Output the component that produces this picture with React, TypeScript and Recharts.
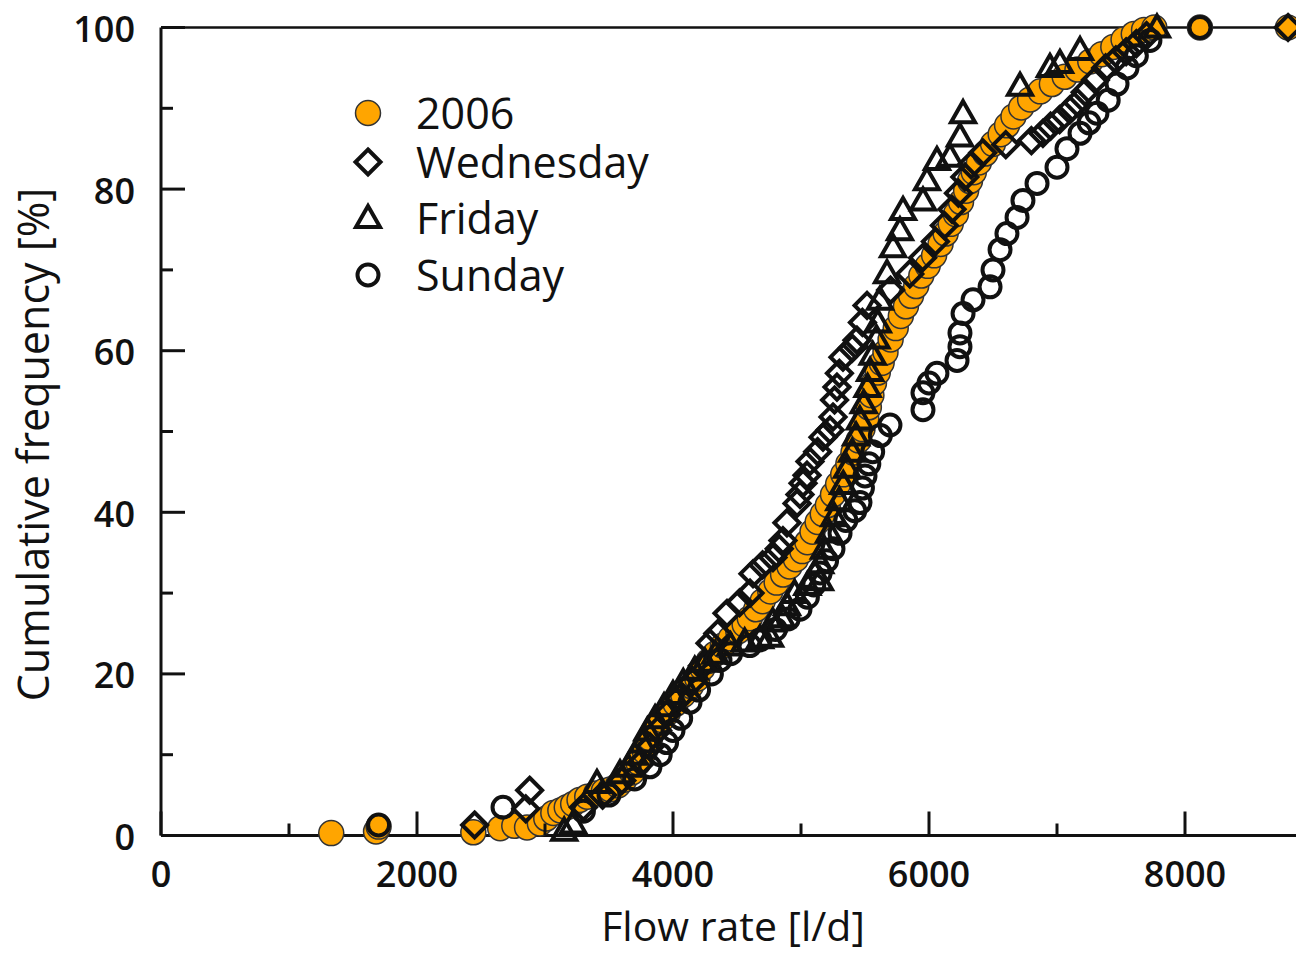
import React from 'react';
import { ScatterChart, Scatter, XAxis, YAxis, Legend, Label } from 'recharts';

// ---------- axis ticks ----------
const X_TICKS = [0, 1000, 2000, 3000, 4000, 5000, 6000, 7000, 8000, 9000];
const X_LABELS = [0, 2000, 4000, 6000, 8000];
const Y_TICKS = [0, 10, 20, 30, 40, 50, 60, 70, 80, 90, 100];
const Y_LABELS = [0, 20, 40, 60, 80, 100];

const X_TITLE = 'Flow rate [l/d]';
const Y_TITLE = 'Cumulative frequency [%]';
const SERIES_NAMES = ['2006', 'Wednesday', 'Friday', 'Sunday'];

// ---------- series values [flow rate l/d, cumulative %] ----------
const DATA_2006: [number, number][] = [
  [1330, 0.3], [1680, 0.5], [1700, 1.1], [2440, 0.4], [2650, 0.9], [2760, 1.2], [2860, 1.0],
  [2960, 1.5], [3010, 2.1], [3065, 2.8], [3120, 3.1], [3170, 3.5], [3220, 3.9], [3270, 4.4],
  [3330, 4.8], [3400, 5.2], [3460, 5.5], [3510, 5.7], [3570, 6.2], [3620, 6.9], [3680, 7.8],
  [3730, 9.0], [3780, 10.4], [3820, 12.0], [3860, 13.2], [3910, 14.3], [3960, 15.2], [4020, 16.3],
  [4080, 17.4], [4140, 18.5], [4190, 19.4], [4230, 20.7], [4280, 21.6], [4330, 22.5], [4390, 23.5],
  [4450, 24.4], [4510, 25.3], [4560, 26.1], [4600, 26.9], [4650, 28.0], [4700, 29.0], [4760, 30.2],
  [4810, 31.3], [4860, 32.3], [4910, 33.3], [4960, 34.2], [5010, 35.2], [5050, 36.3], [5090, 37.6],
  [5130, 38.8], [5170, 39.8], [5210, 40.9], [5250, 42.2], [5290, 43.5], [5330, 44.7], [5370, 46.0],
  [5410, 47.4], [5450, 48.9], [5480, 50.3], [5510, 51.6], [5530, 53.0], [5550, 54.5], [5570, 56.0],
  [5600, 57.3], [5630, 58.5], [5660, 59.8], [5700, 61.4], [5740, 62.8], [5780, 64.3], [5820, 65.5],
  [5860, 66.8], [5900, 68.0], [5940, 69.3], [5990, 70.5], [6040, 71.8], [6090, 73.2], [6130, 74.5],
  [6170, 75.7], [6210, 76.9], [6250, 78.4], [6290, 79.8], [6320, 81.0], [6350, 82.1], [6390, 83.3],
  [6440, 84.4], [6500, 85.6], [6560, 86.8], [6610, 87.9], [6660, 89.0], [6720, 90.1], [6790, 91.1],
  [6870, 92.1], [6960, 93.0], [7060, 93.9], [7160, 94.8], [7260, 95.8], [7350, 96.7], [7440, 97.6],
  [7520, 98.5], [7600, 99.2], [7680, 99.7], [7760, 100], [8117, 100], [8805, 100],
];

const DATA_WED: [number, number][] = [
  [2450, 1.3], [2850, 3.3], [2880, 5.6], [3300, 3.5], [3450, 5.0], [3600, 6.8], [3750, 9.0],
  [3820, 11.0], [3880, 13.0], [3950, 15.0], [4050, 17.0], [4150, 19.0], [4230, 21.0], [4289, 23.8],
  [4350, 25.0], [4422, 27.5], [4520, 28.8], [4602, 30.0], [4625, 32.4], [4700, 33.5], [4781, 34.4],
  [4830, 35.5], [4859, 36.5], [4890, 38.7], [4969, 41.1], [4992, 42.2], [5016, 43.6], [5047, 44.6],
  [5070, 46.3], [5130, 47.5], [5172, 49.3], [5227, 50.2], [5250, 51.8], [5262, 53.9], [5281, 55.5],
  [5300, 57.2], [5328, 59.2], [5400, 60.3], [5437, 61.3], [5480, 63.5], [5516, 65.6], [5700, 67.5],
  [5850, 69.5], [5950, 71.5], [6050, 73.5], [6120, 75.5], [6180, 77.5], [6230, 79.5], [6280, 81.5],
  [6330, 83.0], [6420, 84.5], [6600, 85.5], [6800, 86.0], [6890, 86.9], [6950, 87.8], [7020, 88.6],
  [7100, 89.8], [7160, 90.7], [7220, 92.0], [7300, 93.5], [7380, 95.0], [7460, 96.0], [7540, 97.0],
  [7620, 98.0], [7700, 99.0], [8805, 100],
];

const DATA_FRI: [number, number][] = [
  [3150, 0.6], [3220, 1.5], [3406, 6.5], [3586, 7.7], [3650, 8.5], [3700, 10.0], [3760, 11.5],
  [3800, 13.0], [3860, 14.5], [3930, 16.0], [4000, 17.5], [4080, 19.0], [4170, 20.5], [4250, 21.5],
  [4330, 22.5], [4450, 23.5], [4560, 24.0], [4680, 24.4], [4758, 24.6], [4780, 26.5], [4850, 27.0],
  [4890, 28.5], [4950, 30.0], [5050, 31.0], [5148, 31.6], [5150, 33.7], [5180, 35.5], [5220, 37.5],
  [5260, 39.5], [5300, 41.5], [5330, 43.5], [5360, 45.5], [5400, 47.5], [5430, 49.5], [5460, 51.5],
  [5490, 53.5], [5520, 55.5], [5540, 57.5], [5560, 59.5], [5590, 61.5], [5600, 63.5], [5617, 66.3],
  [5672, 69.6], [5719, 72.8], [5773, 74.9], [5797, 77.4], [5953, 78.6], [5984, 81.1], [6062, 83.6],
  [6164, 84.0], [6242, 86.5], [6266, 89.4], [6711, 92.8], [6945, 95.1], [7023, 95.6], [7180, 97.2],
  [7781, 100],
];

const DATA_SUN: [number, number][] = [
  [1700, 1.3], [2672, 3.5], [3300, 3.0], [3500, 5.0], [3700, 7.0], [3820, 8.5], [3900, 10.0],
  [3950, 11.5], [4000, 13.0], [4060, 14.5], [4133, 16.5], [4200, 18.0], [4300, 20.0], [4367, 21.7],
  [4450, 22.5], [4600, 23.5], [4680, 24.2], [4800, 25.5], [4900, 26.8], [4992, 28.0], [5050, 29.5],
  [5100, 31.0], [5150, 32.5], [5200, 34.0], [5250, 35.5], [5305, 37.4], [5350, 39.0], [5420, 40.2],
  [5461, 41.2], [5480, 43.0], [5500, 44.5], [5530, 46.0], [5560, 47.5], [5620, 49.5], [5695, 50.8],
  [5953, 52.7], [5953, 54.8], [6000, 56.0], [6062, 57.2], [6219, 58.8], [6242, 60.5], [6242, 62.2],
  [6266, 64.6], [6344, 66.3], [6477, 67.9], [6500, 70.0], [6555, 72.5], [6609, 74.5], [6688, 76.5],
  [6734, 78.6], [6844, 80.7], [7000, 82.7], [7078, 85.0], [7180, 86.9], [7250, 88.2], [7312, 89.4],
  [7400, 91.0], [7469, 93.0], [7547, 95.0], [7620, 96.5], [7726, 98.4], [8117, 100],
];

const toPoints = (arr: [number, number][]) => arr.map(([x, y]) => ({ x, y }));

// ---------- styles ----------
const AX = '#111';
const ORANGE = '#FFA500';
const FONT = '"Open Sans", "DejaVu Sans", sans-serif';

// ---------- marker shapes ----------
const OrangeDot = (p: any) => (
  <circle cx={p.cx} cy={p.cy} r={12.5} fill={ORANGE} stroke="#333" strokeWidth={1.5} />
);
const Diamond = (p: any) => {
  const s = 12.5;
  return (
    <polygon
      points={`${p.cx},${p.cy - s} ${p.cx + s},${p.cy} ${p.cx},${p.cy + s} ${p.cx - s},${p.cy}`}
      fill="none" stroke={AX} strokeWidth={4}
    />
  );
};
const Triangle = (p: any) => (
  <polygon
    points={`${p.cx},${p.cy - 12} ${p.cx + 12},${p.cy + 9} ${p.cx - 12},${p.cy + 9}`}
    fill="none" stroke={AX} strokeWidth={4}
  />
);
const Ring = (p: any) => (
  <circle cx={p.cx} cy={p.cy} r={10.5} fill="none" stroke={AX} strokeWidth={4} />
);

// ---------- ticks ----------
const BottomTick = (props: any) => {
  const { x, y, payload } = props;
  const major = X_LABELS.includes(payload.value);
  return (
    <g>
      <line x1={x} x2={x} y1={y} y2={y - (major ? 24 : 12)} stroke={AX} strokeWidth={3} />
      {major && (
        <text x={x} y={y + 37.5} textAnchor="middle" dominantBaseline="central"
          fontFamily={FONT} fontSize={36} fontWeight={600} fill={AX}>{payload.value}</text>
      )}
    </g>
  );
};
const TopTick = (props: any) => {
  const { x, y, payload } = props;
  const major = X_LABELS.includes(payload.value);
  return <line x1={x} x2={x} y1={y} y2={y + (major ? 24 : 12)} stroke={AX} strokeWidth={3} />;
};
const LeftTick = (props: any) => {
  const { x, y, payload } = props;
  const major = Y_LABELS.includes(payload.value);
  return (
    <g>
      <line x1={x} x2={x + (major ? 24 : 12)} y1={y} y2={y} stroke={AX} strokeWidth={3} />
      {major && (
        <text x={x - 26} y={y + 1} textAnchor="end" dominantBaseline="central"
          fontFamily={FONT} fontSize={36} fontWeight={600} fill={AX}>{payload.value}</text>
      )}
    </g>
  );
};
const RightTick = (props: any) => {
  const { x, y, payload } = props;
  const major = Y_LABELS.includes(payload.value);
  return <line x1={x} x2={x - (major ? 24 : 12)} y1={y} y2={y} stroke={AX} strokeWidth={3} />;
};

// ---------- legend ----------
const LEGEND_SHAPES = [OrangeDot, Diamond, Triangle, Ring];
const LEGEND_ROWS = [53, 102, 158, 215];
const LegendContent = () => (
  <svg width={420} height={260} style={{ overflow: 'visible' }}>
    {SERIES_NAMES.map((name, i) => {
      const Shape = LEGEND_SHAPES[i];
      return (
        <g key={name}>
          <Shape cx={68} cy={LEGEND_ROWS[i]} />
          <text x={116} y={LEGEND_ROWS[i] + 16} fontFamily={FONT} fontSize={43} fill={AX}>{name}</text>
        </g>
      );
    })}
  </svg>
);

export default function App() {
  return (
    <div style={{ width: 1304, height: 953, overflow: 'hidden', position: 'relative', marginTop: -8, marginLeft: -8 }}>
      <ScatterChart
        width={1328}
        height={953}
        margin={{ top: 26.5, right: 14, bottom: 116.5, left: 160 }}
        style={{ fontFamily: FONT }}
      >
        <XAxis
          xAxisId="bottom" dataKey="x" type="number" domain={[0, 9000]} ticks={X_TICKS}
          interval={0} orientation="bottom" height={1} tickSize={0} tickMargin={0}
          axisLine={{ stroke: AX, strokeWidth: 3 }} tickLine={false} tick={BottomTick}
        >
          <Label
            content={(p: any) => {
              const vb = p.viewBox || { x: 161, y: 835.5, width: 1152 };
              return (
                <text x={vb.x + 572} y={vb.y + 105} textAnchor="middle" fontFamily={FONT}
                  fontSize={41} fill={AX}>{X_TITLE}</text>
              );
            }}
          />
        </XAxis>
        <XAxis
          xAxisId="top" dataKey="x" type="number" domain={[0, 9000]} ticks={X_TICKS}
          interval={0} orientation="top" height={1} tickSize={0} tickMargin={0}
          axisLine={{ stroke: AX, strokeWidth: 2.5 }} tickLine={false} tick={TopTick}
        />
        <YAxis
          yAxisId="left" dataKey="y" type="number" domain={[0, 100]} ticks={Y_TICKS}
          interval={0} orientation="left" width={1} tickSize={0} tickMargin={0}
          axisLine={{ stroke: AX, strokeWidth: 3 }} tickLine={false} tick={LeftTick}
        >
          <Label
            content={(p: any) => {
              const vb = p.viewBox || { x: 160, y: 27.5, height: 808 };
              const cx = 49;
              const cy = vb.y + 417;
              return (
                <text x={cx} y={cy} transform={`rotate(-90, ${cx}, ${cy})`} textAnchor="middle"
                  fontFamily={FONT} fontSize={43} fill={AX}>{Y_TITLE}</text>
              );
            }}
          />
        </YAxis>
        <YAxis
          yAxisId="right" dataKey="y" type="number" domain={[0, 100]} ticks={Y_TICKS}
          interval={0} orientation="right" width={1} tickSize={0} tickMargin={0}
          axisLine={{ stroke: AX, strokeWidth: 3 }} tickLine={false} tick={RightTick}
        />
        <Legend
          layout="horizontal" verticalAlign="middle" align="center"
          content={LegendContent}
          wrapperStyle={{ position: 'absolute', left: 300, top: 60, width: 420, height: 260 }}
        />
        <Scatter name={SERIES_NAMES[0]} data={toPoints(DATA_2006)} xAxisId="bottom" yAxisId="left"
          shape={OrangeDot} isAnimationActive={false} />
        <Scatter name={SERIES_NAMES[1]} data={toPoints(DATA_WED)} xAxisId="bottom" yAxisId="left"
          shape={Diamond} isAnimationActive={false} />
        <Scatter name={SERIES_NAMES[2]} data={toPoints(DATA_FRI)} xAxisId="bottom" yAxisId="left"
          shape={Triangle} isAnimationActive={false} />
        <Scatter name={SERIES_NAMES[3]} data={toPoints(DATA_SUN)} xAxisId="bottom" yAxisId="left"
          shape={Ring} isAnimationActive={false} />
      </ScatterChart>
    </div>
  );
}
